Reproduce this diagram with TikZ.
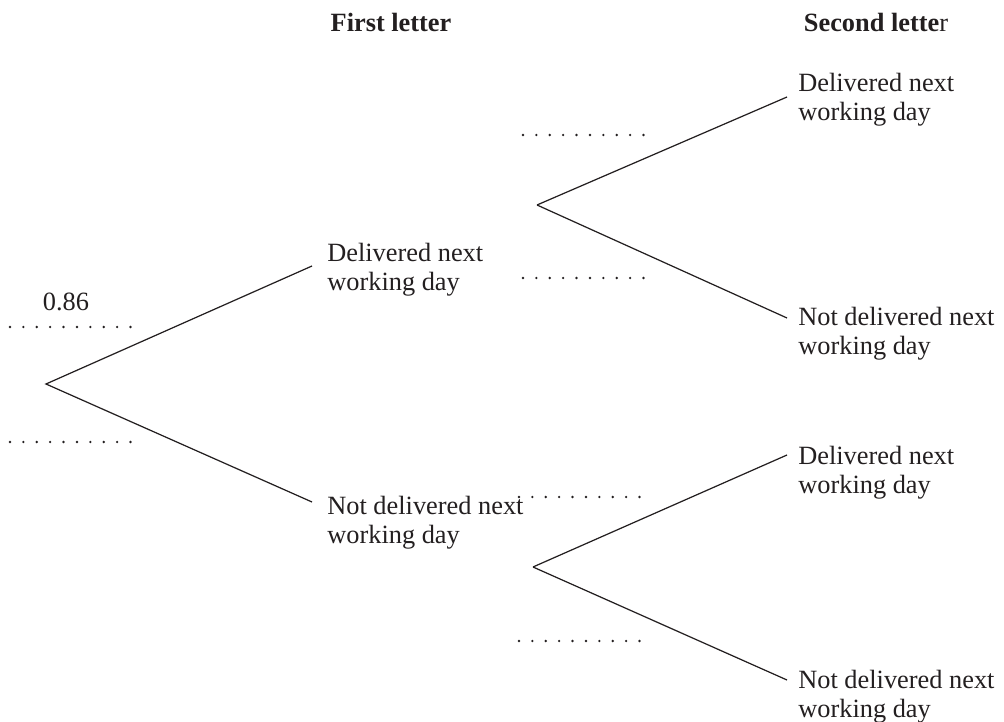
\documentclass[tikz,border=0pt]{standalone}
\usepackage{fontspec}
\setmainfont{Liberation Serif}
\usetikzlibrary{positioning}
\definecolor{treeink}{HTML}{231F20}

\begin{document}
\begin{tikzpicture}[x=0.02cm,y=-0.02cm,
  font=\fontsize{15}{16.5}\selectfont,text=treeink,
  branch/.style={draw=treeink,line width=0.7pt},
  outcome/.style={anchor=west,align=left,inner sep=0},
  heading/.style={font=\fontsize{15}{16.5}\selectfont\bfseries},
  blankdots/.style={draw=treeink,line width=1.5pt,line cap=round,dash pattern=on 0pt off 7.62pt}]
  \useasboundingbox (0,0) rectangle (1004,722);
  % headings
  \node[heading] (h1) at (391,22) {First letter};
  \node[heading] (h2) at (876,22) {Second lette\textmd{r}};
  % first letter
  \coordinate (root) at (46,384);
  \coordinate (e1) at (312,266);
  \coordinate (e2) at (312,502);
  \node[outcome] (d1) at (327,270) {Delivered next\\working day};
  \node[outcome] (n1) at (327,523) {Not delivered next\\working day};
  \draw[branch] (e1) -- (root) -- (e2);
  \node (p1) at (66,302) {0.86};
  % second letter
  \coordinate (f1) at (537,205);
  \coordinate (f2) at (533,567);
  \foreach \fk/\nm/\ey/\ly/\txt in {f1/dd/97/100/{Delivered next\\working day},
      f1/dn/318/334/{Not delivered next\\working day},
      f2/nd/455/473/{Delivered next\\working day},
      f2/nn/680/697/{Not delivered next\\working day}}{
    \coordinate (e\nm) at (787,\ey);
    \node[outcome] (\nm) at (798,\ly) {\txt};
    \draw[branch] (\fk) -- (e\nm);
  }
  % blanks
  \foreach \x/\y in {10/327,10/442,523/135,523/278,519/497,519/641}
    \draw[blankdots] (\x,\y) -- ++(121,0);
\end{tikzpicture}
\end{document}
